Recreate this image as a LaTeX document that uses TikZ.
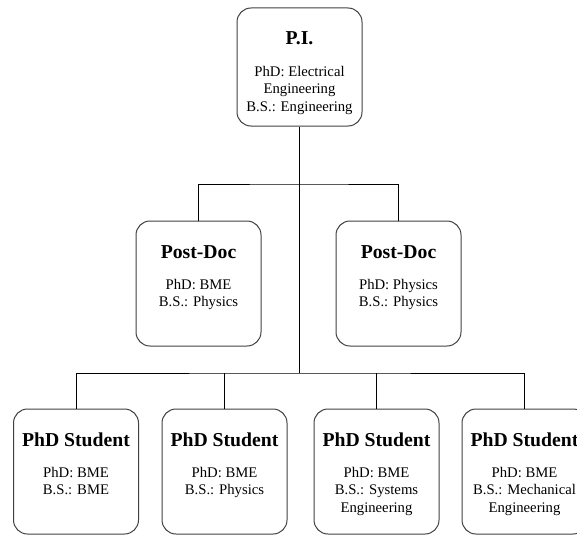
\documentclass[tikz,border=0pt]{standalone}
\usepackage{fontspec}
\setmainfont{Liberation Serif}
\usetikzlibrary{positioning}

\tikzset{
  member/.style={draw=black!75, line width=1pt, rounded corners=14pt,
    minimum width=125pt, minimum height=125pt, inner sep=0pt},
  roletitle/.style={font=\fontsize{19.7}{22}\selectfont\bfseries,
    anchor=base, inner sep=0pt},
  roleinfo/.style={font=\fontsize{14.7}{17.4}\selectfont, align=center,
    anchor=north, inner sep=0pt},
  link/.style={draw=black, line width=0.9pt}
}

\begin{document}
\begin{tikzpicture}[x=1pt,y=1pt]
\useasboundingbox (0,0) rectangle (577,-535);

% boxes
\node[member, minimum height=118pt] (pi) at (299.5,-67){};
\node[member] (pd1) at (198.5,-283.5){};
\node[member] (pd2) at (398.5,-283.5){};
\node[member] (st1) at (76,-471.5){};
\node[member] (st2) at (224.5,-471.5){};
\node[member] (st3) at (376.5,-471.5){};
\node[member] (st4) at (524.5,-471.5){};

% texts
\node[roletitle] (pit) at ([yshift=-37.5pt]pi.north){P.I.};
\node[roleinfo] (pii) at ([yshift=-58.5pt]pi.north){PhD: Electrical\\Engineering\\B.S.: Engineering};
\node[roletitle] (pd1t) at ([yshift=-37.5pt]pd1.north){Post-Doc};
\node[roleinfo] (pd1i) at ([yshift=-58.5pt]pd1.north){PhD: BME\\B.S.: Physics};
\node[roletitle] (pd2t) at ([yshift=-37.5pt]pd2.north){Post-Doc};
\node[roleinfo] (pd2i) at ([yshift=-58.5pt]pd2.north){PhD: Physics\\B.S.: Physics};
\node[roletitle] (st1t) at ([yshift=-37.5pt]st1.north){PhD Student};
\node[roleinfo] (st1i) at ([yshift=-58.5pt]st1.north){PhD: BME\\B.S.: BME};
\node[roletitle] (st2t) at ([yshift=-37.5pt]st2.north){PhD Student};
\node[roleinfo] (st2i) at ([yshift=-58.5pt]st2.north){PhD: BME\\B.S.: Physics};
\node[roletitle] (st3t) at ([yshift=-37.5pt]st3.north){PhD Student};
\node[roleinfo] (st3i) at ([yshift=-58.5pt]st3.north){PhD: BME\\B.S.: Systems\\Engineering};
\node[roletitle] (st4t) at ([yshift=-37.5pt]st4.north){PhD Student};
\node[roleinfo] (st4i) at ([yshift=-58.5pt]st4.north){PhD: BME\\B.S.: Mechanical\\Engineering};

% connectors
\coordinate (split1) at (299.5,-184);
\coordinate (split2) at (299.5,-373);
\draw[link] (pi.south) -- (split2);
\draw[link] (pd1.north) |- (split1) -| (pd2.north);
\draw[link] (st1.north) |- (split2) -| (st4.north);
\draw[link] (st2.north) -- (st2.north |- split2);
\draw[link] (st3.north) -- (st3.north |- split2);

\end{tikzpicture}
\end{document}
